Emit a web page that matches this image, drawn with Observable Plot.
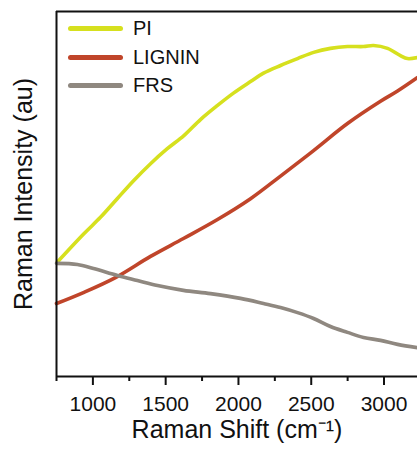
<!DOCTYPE html>
<html>
<head>
<meta charset="utf-8">
<script src="https://cdn.jsdelivr.net/npm/d3@7"></script>
<script src="https://cdn.jsdelivr.net/npm/@observablehq/plot@0.6"></script>
<style>
  html, body { margin: 0; padding: 0; background: #fff; }
  #wrap { position: relative; width: 417px; height: 454px; overflow: hidden; font-family: "Liberation Sans", Arial, sans-serif; }
  .leg { position: absolute; left: 68px; display: flex; align-items: center; font-size: 20px; color: #111; }
  .leg .sw { width: 55px; height: 5px; border-radius: 3px; margin-right: 10px; }
</style>
</head>
<body>
<div id="wrap"></div>
<script>
// Series names and colours
const seriesNames = ["PI", "LIGNIN", "FRS"];
const seriesColors = ["#d6e01e", "#c0452a", "#8f8880"];

// PI spectrum (Raman shift in cm-1, intensity in arbitrary units)
const piShift     = [755, 938, 1052, 1167, 1281, 1396, 1511, 1625, 1739, 1854, 1968, 2083, 2172, 2289, 2406, 2516, 2632, 2749, 2859, 2928, 3024, 3113, 3161, 3230];
const piIntensity = [31.3, 39.1, 43.6, 48.7, 53.7, 58.3, 62.4, 66.0, 70.4, 74.2, 77.7, 80.8, 83.1, 85.2, 87.1, 88.8, 89.9, 90.4, 90.4, 90.7, 89.9, 87.9, 87.1, 87.4];

// LIGNIN spectrum
const ligninShift     = [750, 935, 1155, 1396, 1622, 1856, 2083, 2289, 2516, 2749, 2976, 3093, 3230];
const ligninIntensity = [20.0, 23.0, 27.1, 32.9, 37.8, 43.0, 48.7, 54.9, 61.9, 69.3, 75.4, 78.2, 81.9];

// FRS spectrum
const frsShift     = [750, 894, 1004, 1169, 1306, 1444, 1622, 1808, 2014, 2172, 2289, 2406, 2516, 2632, 2749, 2859, 2976, 3093, 3230];
const frsIntensity = [31.0, 30.7, 29.6, 27.7, 26.3, 24.9, 23.6, 22.7, 21.4, 20.0, 18.9, 17.5, 15.9, 13.7, 12.1, 10.7, 9.9, 8.8, 7.9];

// Axis ticks
const majorTicks = [1000, 1500, 2000, 2500, 3000];
const minorTicks = [750, 1250, 1750, 2250, 2750, 3250];
const xDomain = [750, 3230];
const yDomain = [0, 100];

const xTitle = "Raman Shift (cm⁻¹)";
const yTitle = "Raman Intensity (au)";

const shifts = [piShift, ligninShift, frsShift];
const intens = [piIntensity, ligninIntensity, frsIntensity];
const data = seriesNames.flatMap((s, i) => shifts[i].map((x, j) => ({series: s, shift: x, intensity: intens[i][j]})));

const chart = Plot.plot({
  width: 417,
  height: 454,
  marginLeft: 56,
  marginRight: 0,
  marginTop: 11,
  marginBottom: 78,
  style: {fontFamily: "'Liberation Sans', Arial, sans-serif", background: "transparent", color: "#111"},
  x: {domain: xDomain},
  y: {domain: yDomain, axis: null},
  color: {domain: seriesNames, range: seriesColors},
  marks: [
    Plot.line(data, {x: "shift", y: "intensity", z: "series", stroke: "series", strokeWidth: 3.6, curve: "catmull-rom", strokeLinejoin: "round"}),
    Plot.ruleY([yDomain[0]], {stroke: "#111", strokeWidth: 2}),
    Plot.ruleY([yDomain[1]], {stroke: "#111", strokeWidth: 2}),
    Plot.ruleX([xDomain[0]], {stroke: "#111", strokeWidth: 2}),
    Plot.axisX({ticks: majorTicks, tickSize: 9, tickPadding: 11, fontSize: 21, label: null, strokeWidth: 2, tickFormat: d => String(d)}),
    Plot.axisX({ticks: minorTicks, tickSize: 5, text: null, label: null, strokeWidth: 2}),
    Plot.text([xTitle], {frameAnchor: "bottom", text: d => d, dy: 53, fontSize: 25, lineAnchor: "middle", textAnchor: "middle", fill: "#111"}),
    Plot.text([yTitle], {frameAnchor: "left", text: d => d, dx: -33, rotate: -90, fontSize: 25, lineAnchor: "middle", textAnchor: "middle", fill: "#111"})
  ]
});

const wrap = document.getElementById("wrap");
wrap.appendChild(chart);

seriesNames.forEach((s, i) => {
  const row = document.createElement("div");
  row.className = "leg";
  row.style.top = (17 + i * 28.5) + "px";
  const sw = document.createElement("div");
  sw.className = "sw";
  sw.style.background = seriesColors[i];
  const label = document.createElement("span");
  label.textContent = s;
  row.appendChild(sw);
  row.appendChild(label);
  wrap.appendChild(row);
});
</script>
</body>
</html>
